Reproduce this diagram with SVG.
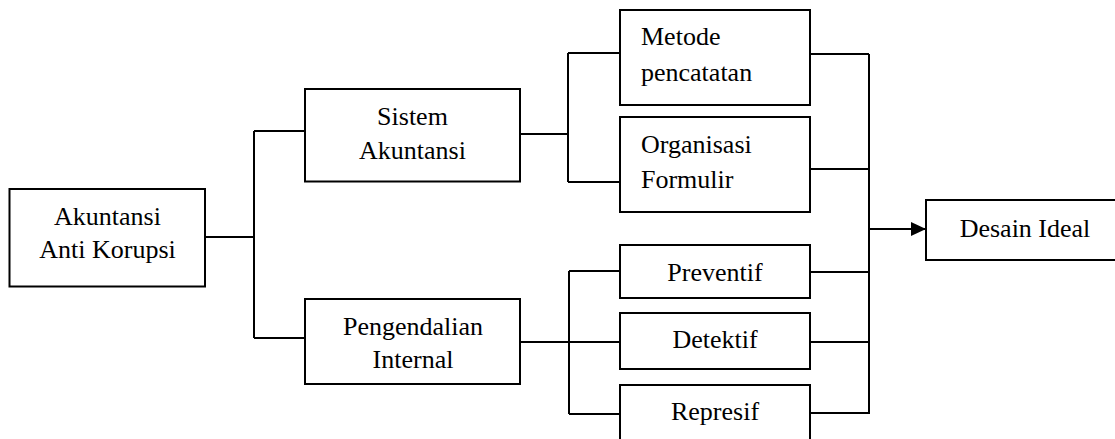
<svg xmlns="http://www.w3.org/2000/svg" width="1115" height="439" viewBox="0 0 1115 439">
<defs>
<style>
.box{fill:#fff;stroke:#000;stroke-width:2}
.t{font-family:"Liberation Serif","Times New Roman",serif;font-size:26px;fill:#000}
.c{text-anchor:middle}
.ln{fill:none;stroke:#000;stroke-width:2}
</style>
<marker id="arr" markerWidth="15" markerHeight="14" refX="15" refY="7" orient="auto" markerUnits="userSpaceOnUse">
<path d="M0,0 L15,7 L0,14 Z" fill="#000"/>
</marker>
</defs>
<rect width="1115" height="439" fill="#fff"/>
<g id="connectors">
<path class="ln" d="M205,237 H254 M254,131 V338 M254,131 H305 M254,338 H305"/>
<path class="ln" d="M520,134 H568 M568,53 V182 M568,53 H620 M568,182 H620"/>
<path class="ln" d="M520,342 H620 M569,271 V414 M569,271 H620 M569,414 H620"/>
<path class="ln" d="M810,54 H869 M810,169 H869 M810,272 H869 M810,342 H869 M810,413 H869 M869,54 V414"/>
<path class="ln" d="M869,229 H926" marker-end="url(#arr)"/>
</g>
<g id="akuntansi-anti-korupsi">
<rect class="box" x="9.5" y="189" width="195.5" height="97.5"/>
<text class="t c" x="107.5" y="225">Akuntansi</text>
<text class="t c" x="107.5" y="258">Anti Korupsi</text>
</g>
<g id="sistem-akuntansi">
<rect class="box" x="305" y="89" width="215" height="92.5"/>
<text class="t c" x="412.5" y="125">Sistem</text>
<text class="t c" x="412.5" y="159">Akuntansi</text>
</g>
<g id="pengendalian-internal">
<rect class="box" x="305" y="299" width="215" height="85"/>
<text class="t c" x="413" y="335">Pengendalian</text>
<text class="t c" x="413" y="368">Internal</text>
</g>
<g id="metode-pencatatan">
<rect class="box" x="620" y="10" width="190" height="95"/>
<text class="t" x="641" y="45">Metode</text>
<text class="t" x="641" y="81">pencatatan</text>
</g>
<g id="organisasi-formulir">
<rect class="box" x="620" y="117" width="190" height="95"/>
<text class="t" x="641" y="153">Organisasi</text>
<text class="t" x="641" y="188">Formulir</text>
</g>
<g id="preventif">
<rect class="box" x="620" y="245" width="190" height="53"/>
<text class="t c" x="715" y="281">Preventif</text>
</g>
<g id="detektif">
<rect class="box" x="620" y="313" width="190" height="56"/>
<text class="t c" x="715" y="348">Detektif</text>
</g>
<g id="represif">
<rect class="box" x="620" y="385" width="190" height="70"/>
<text class="t c" x="715" y="420">Represif</text>
</g>
<g id="desain-ideal">
<rect class="box" x="926" y="200" width="200" height="60"/>
<text class="t c" x="1025" y="237">Desain Ideal</text>
</g>
</svg>
